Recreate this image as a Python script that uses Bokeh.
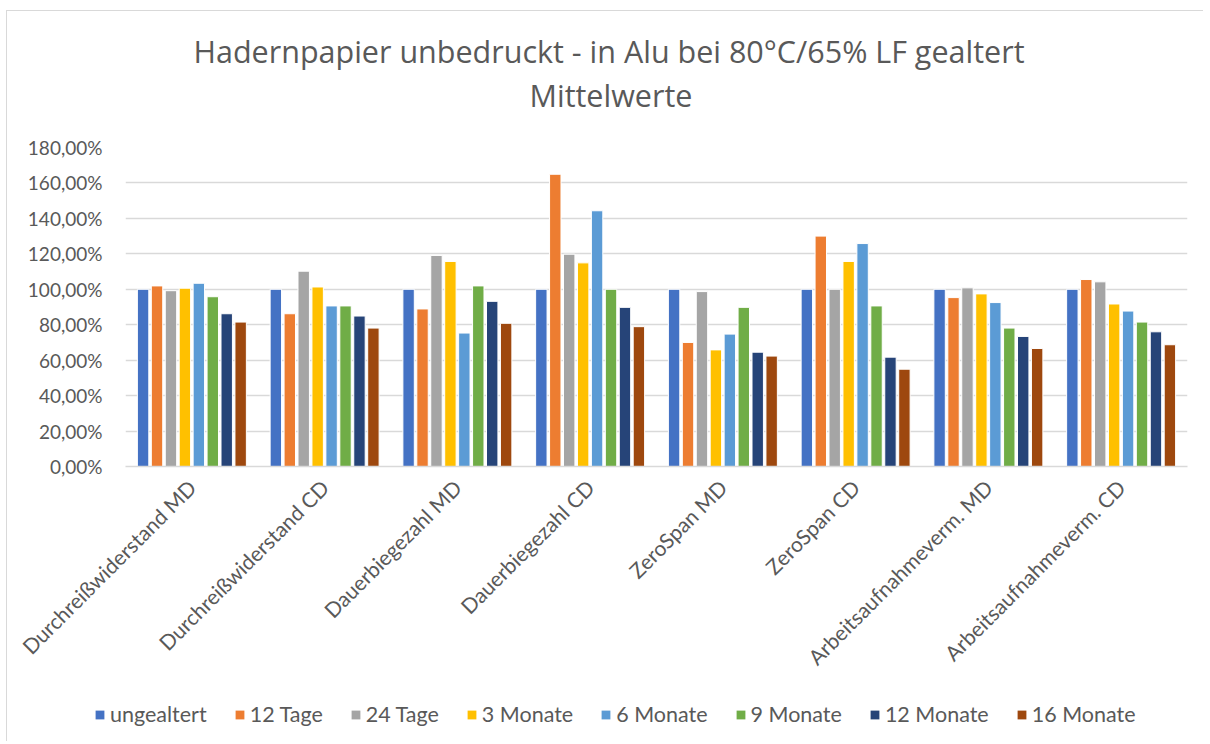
import math
from bokeh.plotting import figure
from bokeh.layouts import column
from bokeh.models import (ColumnDataSource, FactorRange, Range1d, Legend, LegendItem,
                          CustomJSTickFormatter, FixedTicker, Title)
from bokeh.transform import dodge
from bokeh.embed import file_html
from bokeh.resources import INLINE

categories = ["Durchreißwiderstand MD", "Durchreißwiderstand CD", "Dauerbiegezahl MD",
              "Dauerbiegezahl CD", "ZeroSpan MD", "ZeroSpan CD",
              "Arbeitsaufnahmeverm. MD", "Arbeitsaufnahmeverm. CD"]

series_names = ["ungealtert", "12 Tage", "24 Tage", "3 Monate",
                "6 Monate", "9 Monate", "12 Monate", "16 Monate"]

ungealtert = [100.0, 100.0, 100.0, 100.0, 100.0, 100.0, 100.0, 100.0]
tage_12 = [101.9, 86.2, 88.9, 164.9, 70.0, 130.0, 95.3, 105.5]
tage_24 = [99.2, 110.2, 119.1, 119.8, 98.7, 100.0, 100.8, 104.2]
monate_3 = [100.6, 101.3, 115.7, 114.9, 65.8, 115.7, 97.4, 91.7]
monate_6 = [103.4, 90.6, 75.3, 144.3, 74.7, 125.8, 92.5, 87.7]
monate_9 = [95.8, 90.6, 101.9, 100.0, 89.8, 90.6, 78.1, 81.5]
monate_12 = [86.2, 84.9, 93.2, 89.8, 64.5, 61.7, 73.4, 76.0]
monate_16 = [81.5, 78.1, 80.8, 78.9, 62.3, 54.9, 66.6, 68.7]

colors = ["#4472C4", "#ED7D31", "#A5A5A5", "#FFC000",
          "#5B9BD5", "#70AD47", "#264478", "#9E480E"]

y_ticks = [0, 20, 40, 60, 80, 100, 120, 140, 160, 180]

title_line1 = "Hadernpapier unbedruckt - in Alu bei 80°C/65% LF gealtert"
title_line2 = "Mittelwerte"

all_series = [ungealtert, tage_12, tage_24, monate_3, monate_6, monate_9, monate_12, monate_16]
keys = ["s%d" % i for i in range(len(all_series))]
data = {"cat": categories}
for k, s in zip(keys, all_series):
    data[k] = s
source = ColumnDataSource(data)

FONT = "Lato"
TFONT = "Open Sans"
TXT = "#595959"
GRID = "#d9d9d9"

# ---------------- main chart ----------------
p = figure(width=1196, height=680, output_backend="svg", toolbar_location=None,
           x_range=FactorRange(*categories), y_range=Range1d(0, 180),
           min_border_left=118, min_border_right=16, min_border_top=136, min_border_bottom=225)
p.title = None
p.outline_line_color = None
p.background_fill_color = "white"
p.border_fill_color = "white"

pitch = 0.105
renderers = []
for i, (k, c) in enumerate(zip(keys, colors)):
    r = p.vbar(x=dodge("cat", (i - 3.5) * pitch, range=p.x_range), top=k, bottom=0,
               width=0.086, source=source, fill_color=c, line_color="white", line_width=1)
    renderers.append(r)

p.xaxis.axis_line_color = GRID
p.xaxis.axis_line_width = 1.3
p.xaxis.major_tick_line_color = None
p.xaxis.minor_tick_line_color = None
p.xaxis.major_label_orientation = math.pi / 4
p.xaxis.major_label_text_font = FONT
p.xaxis.major_label_text_font_size = "21px"
p.xaxis.major_label_text_color = TXT
p.xaxis.major_label_standoff = 11

p.yaxis.axis_line_color = None
p.yaxis.major_tick_line_color = None
p.yaxis.minor_tick_line_color = None
p.yaxis.ticker = FixedTicker(ticks=y_ticks)
p.yaxis.formatter = CustomJSTickFormatter(code="return tick.toFixed(2).replace('.', ',') + '%';")
p.yaxis.major_label_text_font = FONT
p.yaxis.major_label_text_font_size = "19px"
p.yaxis.major_label_text_color = TXT
p.yaxis.major_label_standoff = 17

p.xgrid.grid_line_color = None
p.ygrid.grid_line_color = GRID
p.ygrid.grid_line_width = 1.3

# titles (spacer first, nearest the frame)
spacer = Title(text=" ", text_font=TFONT, text_font_size="10px", standoff=16)
t2 = Title(text=title_line2, align="left", text_font=TFONT, text_font_size="30.5px",
           text_font_style="normal", text_color=TXT, offset=404, standoff=0)
t1 = Title(text=title_line1, align="left",
           text_font=TFONT, text_font_size="30.5px", text_font_style="normal", text_color=TXT,
           offset=68, standoff=0)
p.add_layout(spacer, "above")
p.add_layout(t2, "above")
p.add_layout(t1, "above")

# ---------------- legend strip ----------------
q = figure(width=1196, height=50, output_backend="svg", toolbar_location=None,
           x_range=Range1d(0, 1), y_range=Range1d(0, 1), x_axis_type=None, y_axis_type=None,
           min_border=0)
q.title = None
q.outline_line_color = None
q.xgrid.visible = False
q.ygrid.visible = False
q.border_fill_color = "white"
q.background_fill_color = "white"

free_frame = True
try:
    p.frame_align = False
    q.frame_align = False
except Exception:
    free_frame = False

# legend swatches: zero-height bars per series (only the legend shows them)
leg_renderers = []
for c in colors:
    r = q.vbar(x=[0.5], top=[0], bottom=[0], width=0.01, fill_color=c, line_color=None)
    leg_renderers.append(r)

leg_x = 87 if free_frame else 0
items = [LegendItem(label=n, renderers=[r]) for n, r in zip(series_names, leg_renderers)]
legend = Legend(items=items, orientation="horizontal", location=(leg_x, 14),
                glyph_width=11, glyph_height=11, label_standoff=5, spacing=27,
                padding=0, margin=0, border_line_color=None, background_fill_alpha=0,
                label_text_font=FONT, label_text_font_size="21.5px", label_text_color=TXT)
q.add_layout(legend, "center")

layout = column(p, q, spacing=0)
layout.styles = {"margin-left": "6px", "margin-top": "10px",
                 "border-left": "1px solid #d9d9d9", "border-top": "1px solid #d9d9d9"}

open("out.html", "w").write(file_html(layout, INLINE))
